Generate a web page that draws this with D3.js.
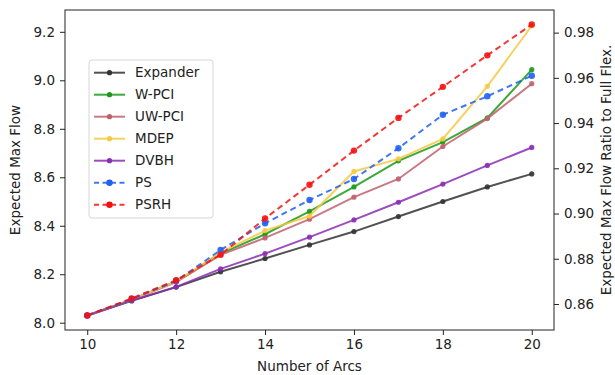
<!DOCTYPE html>
<html>
<head>
<meta charset="utf-8">
<script src="https://cdn.jsdelivr.net/npm/d3@7"></script>
<style>
  body { margin: 0; background: #fff; }
  text { font-family: "DejaVu Sans", sans-serif; fill: #222; }
</style>
</head>
<body>
<div id="chart"></div>
<script>
const width = 615;
const height = 375;
const margin = { top: 10, right: 61, bottom: 45, left: 65 };

// data
const arcs = [10, 11, 12, 13, 14, 15, 16, 17, 18, 19, 20];
const expander = [8.03, 8.09, 8.147, 8.21, 8.265, 8.321, 8.376, 8.438, 8.50, 8.56, 8.614];
const wpci = [8.03, 8.095, 8.17, 8.285, 8.365, 8.459, 8.56, 8.668, 8.745, 8.845, 9.044];
const uwpci = [8.03, 8.095, 8.168, 8.28, 8.35, 8.427, 8.518, 8.593, 8.727, 8.842, 8.986];
const mdep = [8.03, 8.095, 8.17, 8.29, 8.38, 8.44, 8.624, 8.676, 8.758, 8.975, 9.225];
const dvbh = [8.03, 8.092, 8.148, 8.222, 8.285, 8.353, 8.424, 8.497, 8.572, 8.649, 8.723];
const ps = [8.03, 8.098, 8.172, 8.30, 8.41, 8.506, 8.593, 8.72, 8.858, 8.934, 9.019];
const psrh = [8.03, 8.10, 8.175, 8.28, 8.43, 8.569, 8.71, 8.845, 8.973, 9.103, 9.23];

const xTicks = [10, 12, 14, 16, 18, 20];
const yTicks = [8.0, 8.2, 8.4, 8.6, 8.8, 9.0, 9.2];
const rTicks = [0.86, 0.88, 0.90, 0.92, 0.94, 0.96, 0.98];
const rDomain = [0.8485, 0.990];

const series = [
  { name: "Expander", values: expander, color: "#333333", dash: null },
  { name: "W-PCI", values: wpci, color: "#1a9a1a", dash: null },
  { name: "UW-PCI", values: uwpci, color: "#c0606f", dash: null },
  { name: "MDEP", values: mdep, color: "#f7c843", dash: null },
  { name: "DVBH", values: dvbh, color: "#8a2db4", dash: null },
  { name: "PS", values: ps, color: "#1f5ff2", dash: "6,4" },
  { name: "PSRH", values: psrh, color: "#f51010", dash: "6,4" }
];

const svg = d3.select("#chart").append("svg")
  .attr("width", width)
  .attr("height", height);

const iw = width - margin.left - margin.right;
const ih = height - margin.top - margin.bottom;

const x = d3.scaleLinear().domain([9.5, 20.5]).range([margin.left, margin.left + iw]);
const y = d3.scaleLinear().domain([7.97, 9.29]).range([margin.top + ih, margin.top]);
const yr = d3.scaleLinear().domain(rDomain).range([margin.top + ih, margin.top]);

const g = svg.append("g");

// lines and markers
const line = d3.line()
  .x((d, i) => x(arcs[i]))
  .y(d => y(d));

series.forEach(s => {
  g.append("path")
    .attr("d", line(s.values))
    .attr("fill", "none")
    .attr("stroke", s.color)
    .attr("stroke-width", 2)
    .attr("stroke-opacity", 0.85)
    .attr("stroke-dasharray", s.dash);
  g.selectAll(null)
    .data(s.values)
    .join("circle")
    .attr("cx", (d, i) => x(arcs[i]))
    .attr("cy", d => y(d))
    .attr("r", s.dash ? 3.2 : 2.6)
    .attr("fill", s.color)
    .attr("fill-opacity", 0.9);
});

// axes
const fs = "13.5px";
const xAxis = svg.append("g")
  .attr("transform", `translate(0,${margin.top + ih})`)
  .call(d3.axisBottom(x).tickValues(xTicks).tickFormat(d3.format("d")).tickSize(5).tickPadding(4));
const yAxis = svg.append("g")
  .attr("transform", `translate(${margin.left},0)`)
  .call(d3.axisLeft(y).tickValues(yTicks).tickFormat(d3.format(".1f")).tickSize(5).tickPadding(5));
const rAxis = svg.append("g")
  .attr("transform", `translate(${margin.left + iw},0)`)
  .call(d3.axisRight(yr).tickValues(rTicks).tickFormat(d3.format(".2f")).tickSize(5).tickPadding(5));

[xAxis, yAxis, rAxis].forEach(a => {
  a.select(".domain").remove();
  a.selectAll("line").attr("stroke", "#222");
  a.selectAll("text").style("font-size", fs).attr("fill", "#222");
});

// frame
svg.append("rect")
  .attr("x", margin.left)
  .attr("y", margin.top)
  .attr("width", iw)
  .attr("height", ih)
  .attr("fill", "none")
  .attr("stroke", "#222")
  .attr("stroke-width", 1);

// axis titles
svg.append("text")
  .attr("x", margin.left + iw / 2)
  .attr("y", 371)
  .attr("text-anchor", "middle")
  .style("font-size", fs)
  .text("Number of Arcs");

svg.append("text")
  .attr("transform", `translate(20,${margin.top + ih / 2}) rotate(-90)`)
  .attr("text-anchor", "middle")
  .style("font-size", fs)
  .text("Expected Max Flow");

svg.append("text")
  .attr("transform", `translate(611,${margin.top + ih / 2}) rotate(-90)`)
  .attr("text-anchor", "middle")
  .style("font-size", fs)
  .text("Expected Max Flow Ratio to Full Flex.");

// legend
const lg = svg.append("g").attr("transform", "translate(89,60)");
lg.append("rect")
  .attr("width", 124)
  .attr("height", 158)
  .attr("rx", 3)
  .attr("fill", "#fff")
  .attr("fill-opacity", 0.8)
  .attr("stroke", "#d6d6d6");

series.forEach((s, i) => {
  const yy = 12.7 + i * 22;
  lg.append("line")
    .attr("x1", 5).attr("x2", 36)
    .attr("y1", yy).attr("y2", yy)
    .attr("stroke", s.color)
    .attr("stroke-width", 2)
    .attr("stroke-opacity", 0.85)
    .attr("stroke-dasharray", s.dash ? "5,3.5" : null);
  lg.append("circle")
    .attr("cx", 20.5).attr("cy", yy)
    .attr("r", s.dash ? 3.2 : 2.6)
    .attr("fill", s.color);
  lg.append("text")
    .attr("x", 46)
    .attr("y", yy)
    .attr("dy", "0.35em")
    .style("font-size", fs)
    .text(s.name);
});
</script>
</body>
</html>
